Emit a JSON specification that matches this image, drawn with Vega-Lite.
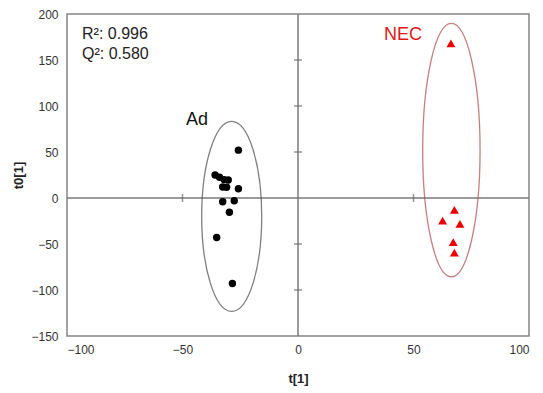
{
  "$schema": "https://vega.github.io/schema/vega-lite/v6.json",
  "width": 462,
  "height": 322,
  "autosize": {"type": "none"},
  "padding": {"left": 67, "top": 14, "right": 14, "bottom": 57},
  "background": "white",
  "config": {
    "view": {"stroke": "#858585", "strokeWidth": 1.5},
    "font": "Liberation Sans",
    "axis": {"grid": false, "ticks": false, "domain": false, "labelFont": "Liberation Sans", "labelFontSize": 12, "labelColor": "#333", "titleFont": "Liberation Sans", "titleFontSize": 13, "titleFontWeight": "bold", "titleColor": "#222"}
  },
  "datasets": {
    "ad": [
      {"x": -25.8, "y": 52}, {"x": -35.9, "y": 25}, {"x": -34, "y": 22.5}, {"x": -32, "y": 20},
      {"x": -30.2, "y": 19.6}, {"x": -32.6, "y": 12}, {"x": -30.9, "y": 11.6}, {"x": -25.8, "y": 10},
      {"x": -32.6, "y": -4}, {"x": -27.6, "y": -3}, {"x": -29.7, "y": -15.5}, {"x": -35.2, "y": -43},
      {"x": -28.4, "y": -93}
    ],
    "nec": [
      {"x": 66.2, "y": 168}, {"x": 67.7, "y": -13}, {"x": 62.6, "y": -24.6}, {"x": 70.1, "y": -28},
      {"x": 67.2, "y": -48}, {"x": 67.7, "y": -59.4}
    ],
    "zero": [{"v": 0}],
    "yticks": [{"x": 0, "y": 150}, {"x": 0, "y": 100}, {"x": 0, "y": 50}, {"x": 0, "y": -50}, {"x": 0, "y": -100}],
    "xticks": [{"x": -50, "y": 0}, {"x": 50, "y": 0}],
    "labels": [
      {"x": -93.5, "y": 178, "text": "R²: 0.996", "grp": "stat"},
      {"x": -93.5, "y": 156.5, "text": "Q²: 0.580", "grp": "stat"}
    ]
  },
  "layer": [
    {
      "data": {"name": "zero"},
      "mark": {"type": "rule", "color": "#7a7a7a", "strokeWidth": 1.5},
      "encoding": {"x": {"field": "v", "type": "quantitative", "scale": {"domain": [-100, 100]}, "axis": {"values": [-100, -50, 0, 50, 100], "labelPadding": 8, "title": "t[1]", "titlePadding": 17}}}
    },
    {
      "data": {"name": "zero"},
      "mark": {"type": "rule", "color": "#7a7a7a", "strokeWidth": 1.5},
      "encoding": {"y": {"field": "v", "type": "quantitative", "scale": {"domain": [-150, 200]}, "axis": {"values": [-150, -100, -50, 0, 50, 100, 150, 200], "labelPadding": 9, "title": "t0[1]", "titlePadding": 5}}}
    },
    {
      "data": {"name": "yticks"},
      "mark": {"type": "point", "shape": "stroke", "size": 64, "stroke": "#6a6a6a", "strokeWidth": 1.5, "filled": false},
      "encoding": {"x": {"field": "x", "type": "quantitative"}, "y": {"field": "y", "type": "quantitative"}}
    },
    {
      "data": {"name": "xticks"},
      "mark": {"type": "point", "shape": "stroke", "size": 64, "angle": 90, "stroke": "#6a6a6a", "strokeWidth": 1.5, "filled": false},
      "encoding": {"x": {"field": "x", "type": "quantitative"}, "y": {"field": "y", "type": "quantitative"}}
    },
    {
      "data": {"values": [{"x": -28.7, "y": -20}]},
      "mark": {"type": "point", "filled": false, "stroke": "#4a4a4a", "strokeWidth": 1.3, "size": 36100,
        "shape": "M0,-1C0.1745,-1 0.316,-0.5523 0.316,0C0.316,0.5523 0.1745,1 0,1C-0.1745,1 -0.316,0.5523 -0.316,0C-0.316,-0.5523 -0.1745,-1 0,-1Z"},
      "encoding": {"x": {"field": "x", "type": "quantitative"}, "y": {"field": "y", "type": "quantitative"}}
    },
    {
      "data": {"values": [{"x": 66.4, "y": 52}]},
      "mark": {"type": "point", "filled": false, "stroke": "#b04a4a", "strokeWidth": 1.3, "size": 64212,
        "shape": "M0,-1C0.1251,-1 0.2265,-0.5523 0.2265,0C0.2265,0.5523 0.1251,1 0,1C-0.1251,1 -0.2265,0.5523 -0.2265,0C-0.2265,-0.5523 -0.1251,-1 0,-1Z"},
      "encoding": {"x": {"field": "x", "type": "quantitative"}, "y": {"field": "y", "type": "quantitative"}}
    },
    {
      "data": {"name": "ad"},
      "mark": {"type": "point", "filled": true, "color": "black", "opacity": 1, "size": 55, "shape": "circle"},
      "encoding": {"x": {"field": "x", "type": "quantitative"}, "y": {"field": "y", "type": "quantitative"}}
    },
    {
      "data": {"name": "nec"},
      "mark": {"type": "point", "filled": true, "color": "#ee0000", "opacity": 1, "size": 80, "shape": "triangle-up"},
      "encoding": {"x": {"field": "x", "type": "quantitative"}, "y": {"field": "y", "type": "quantitative"}}
    },
    {
      "data": {"name": "labels"},
      "mark": {"type": "text", "align": "left", "baseline": "middle", "fontSize": 16, "color": "#222"},
      "encoding": {"x": {"field": "x", "type": "quantitative"}, "y": {"field": "y", "type": "quantitative"}, "text": {"field": "text"}}
    },
    {
      "data": {"values": [{"x": -43.7, "y": 85, "text": "Ad"}]},
      "mark": {"type": "text", "align": "center", "baseline": "middle", "fontSize": 18, "color": "#111"},
      "encoding": {"x": {"field": "x", "type": "quantitative"}, "y": {"field": "y", "type": "quantitative"}, "text": {"field": "text"}}
    },
    {
      "data": {"values": [{"x": 45.5, "y": 177, "text": "NEC"}]},
      "mark": {"type": "text", "align": "center", "baseline": "middle", "fontSize": 18, "color": "#e01818"},
      "encoding": {"x": {"field": "x", "type": "quantitative"}, "y": {"field": "y", "type": "quantitative"}, "text": {"field": "text"}}
    }
  ]
}
